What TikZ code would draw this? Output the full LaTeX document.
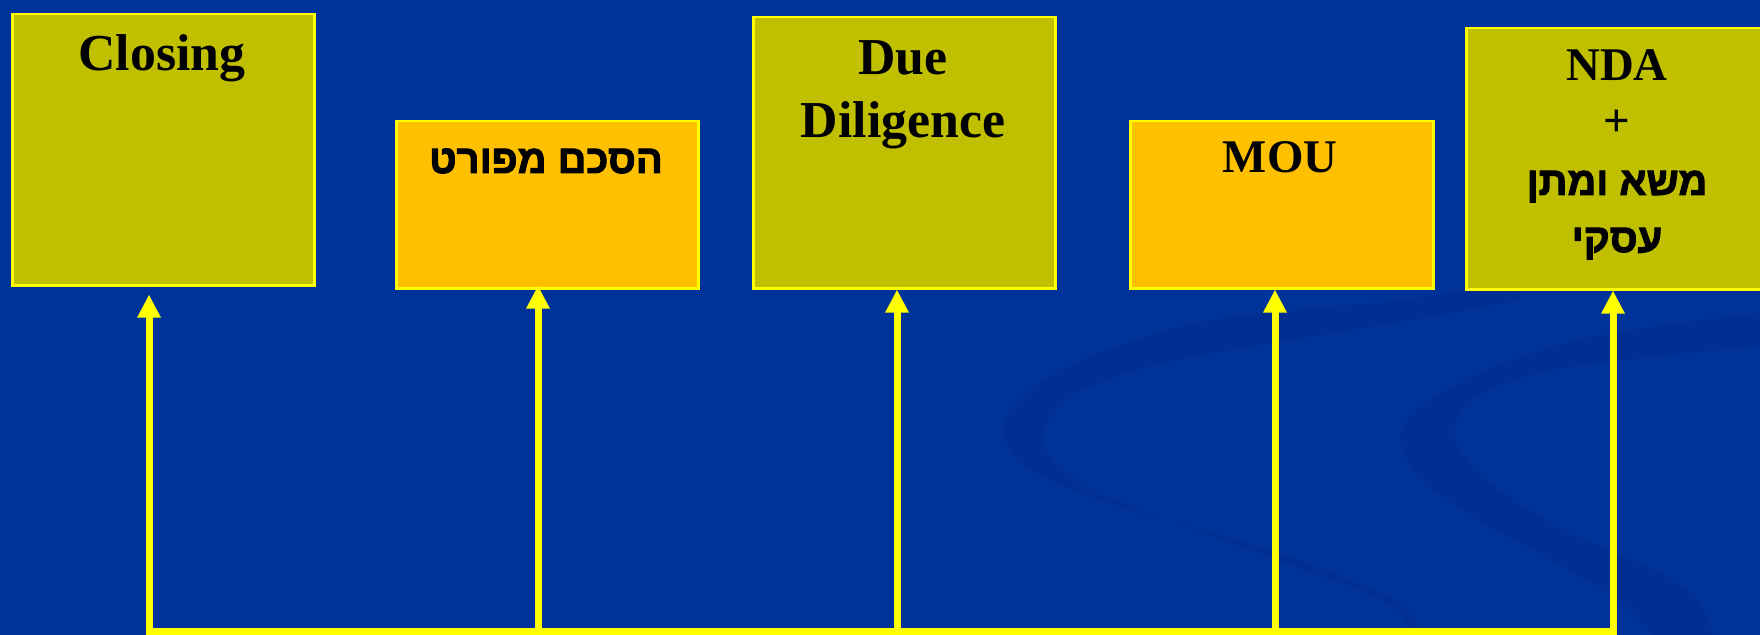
\documentclass[tikz,border=0pt]{standalone}
\usepackage{fontspec}
\setmainfont{Liberation Serif}
\newfontfamily\hebfont[Script=Hebrew,FakeBold=2.5]{Liberation Sans Bold}
\TeXXeTstate=1
\usetikzlibrary{arrows.meta,calc}
\definecolor{bgblue}{RGB}{0,51,153}
\definecolor{swooshblue}{RGB}{0,47,145}
\definecolor{olivebox}{RGB}{192,192,0}
\definecolor{orangebox}{RGB}{255,192,0}
\definecolor{yel}{RGB}{255,255,0}
\tikzset{
  stagebox/.style={draw=yel, line width=2.5bp, inner sep=0pt, anchor=north west},
  olive/.style={stagebox, fill=olivebox},
  orange/.style={stagebox, fill=orangebox},
  lbl/.style={anchor=base, inner sep=0pt, text=black, font=\fontsize{52}{60}\selectfont\bfseries},
  lblsmall/.style={anchor=base, inner sep=0pt, text=black, font=\fontsize{47}{56}\selectfont\bfseries},
  heb/.style={anchor=base, inner sep=0pt, text=black, font=\fontsize{40}{48}\selectfont\hebfont},
  conn/.style={draw=yel, line width=7bp},
  arr/.style={conn, -{Triangle[width=22bp,length=23bp]}},
  swoosh/.style={fill=swooshblue}
}
\begin{document}
\begin{tikzpicture}[x=1bp,y=-1bp]
\useasboundingbox (0,0) rectangle (1760,635);
\clip (0,0) rectangle (1760,635);
\fill[bgblue] (0,0) rectangle (1760,635);
% background swooshes
\fill[swoosh] plot[smooth] coordinates {(1520,282) (1400,300) (1200,322) (1060,370) (1005,420) (1020,462) (1100,500) (1270,550) (1390,598) (1428,640)}
  -- plot[smooth] coordinates {(1418,640) (1385,602) (1267,556) (1100,494) (1050,457) (1043,433) (1070,397) (1167,362) (1400,322) (1520,300)} -- cycle;
\fill[swoosh] plot[smooth] coordinates {(1770,312) (1600,335) (1480,372) (1405,422) (1412,470) (1470,515) (1560,565) (1625,605) (1655,640)}
  -- plot[smooth] coordinates {(1714,640) (1700,603) (1660,573) (1560,528) (1490,483) (1455,440) (1472,400) (1560,368) (1770,345)} -- cycle;
% boxes
\node[olive, minimum width=302bp, minimum height=271bp] (closing) at (11,13) {};
\node[orange, minimum width=302bp, minimum height=167bp] (detailed) at (395,120) {};
\node[olive, minimum width=302bp, minimum height=271bp] (dd) at (752,16) {};
\node[orange, minimum width=303bp, minimum height=167bp] (mou) at (1129,120) {};
\node[olive, minimum width=302bp, minimum height=261bp] (nda) at (1465,27) {};
% labels
\node[lbl] (closingt) at (162,71) {Closing};
\node[heb] (detailedt) at (546,173) {\beginR הסכם מפורט\endR};
\node[lbl] (ddt1) at (903,75) {Due};
\node[lbl] (ddt2) at (903,138) {Diligence};
\node[lblsmall] (mout) at (1280,173) {MOU};
\node[lblsmall] (ndat1) at (1617,81) {NDA};
\node[lblsmall] (ndat2) at (1617,137) {+};
\node[heb] (ndat3) at (1617,195) {\beginR משא ומתן\endR};
\node[heb] (ndat4) at (1617,252) {\beginR עסקי\endR};
% connectors
\coordinate (b1) at (149,631);
\coordinate (b2) at (538,631);
\coordinate (b3) at (897,631);
\coordinate (b4) at (1275,631);
\coordinate (b5) at (1613,631);
\draw[conn, line cap=rect] (b1) -- (b5);
\draw[arr] (b1) -- ($(closing.south -| b1)+(0,8)$);
\draw[arr] (b2) -- ($(detailed.south -| b2)+(0,-4)$);
\draw[arr] (b3) -- (dd.south -| b3);
\draw[arr] (b4) -- (mou.south -| b4);
\draw[arr] (b5) -- (nda.south -| b5);
\end{tikzpicture}
\end{document}
